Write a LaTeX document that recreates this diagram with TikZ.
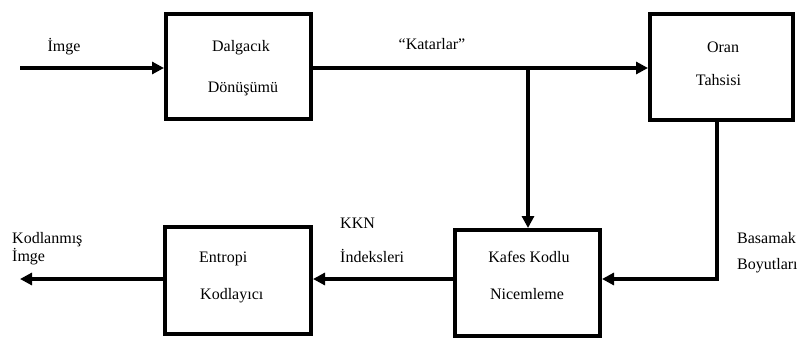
\documentclass[tikz,border=0pt]{standalone}
\usepackage{fontspec}
\setmainfont{Liberation Serif}
\usetikzlibrary{arrows.meta}
\begin{document}
\begin{tikzpicture}[x=1pt,y=-1pt,
  blk/.style={draw, line width=4pt, inner sep=0pt, minimum width=#1},
  lbl/.style={inner sep=0pt, text height=10.6pt, text depth=0pt, font=\fontsize{16}{19}\selectfont},
  conn/.style={line width=4pt},
  arr/.style={conn, -{Triangle[length=12pt,width=12pt]}}]
\useasboundingbox (0,0) rectangle (797,348);
% boxes
\node[blk=145pt, minimum height=105pt] (dalga) at (238.5,66.5) {};
\node[blk=143pt, minimum height=106pt] (oran) at (721.5,67) {};
\node[blk=145pt, minimum height=106pt] (kafes) at (527.5,283) {};
\node[blk=146pt, minimum height=107pt] (entropi) at (238,280.5) {};
% box texts
\node[lbl] (t1) at (241,46) {Dalgacık};
\node[lbl] (t2) at (243,87) {Dönüşümü};
\node[lbl] (t3) at (723,47) {Oran};
\node[lbl] (t4) at (718.5,80) {Tahsisi};
\node[lbl] (t5) at (529,257) {Kafes Kodlu};
\node[lbl] (t6) at (527,294) {Nicemleme};
\node[lbl, anchor=west] (t7) at (199,257) {Entropi};
\node[lbl, anchor=west] (t8) at (200,294) {Kodlayıcı};
% free labels
\node[lbl] (l1) at (64,46) {İmge};
\node[lbl] (l2) at (432,44) {“Katarlar”};
\node[lbl, anchor=west] (l3) at (340,223) {KKN};
\node[lbl, anchor=west] (l4) at (340,257) {İndeksleri};
\node[lbl, anchor=west] (l5) at (12,238) {Kodlanmış};
\node[lbl, anchor=west] (l6) at (12,256) {İmge};
\node[lbl, anchor=west] (l7) at (737,238) {Basamak};
\node[lbl, anchor=west] (l8) at (737,264) {Boyutları};
% coordinates
\coordinate (in) at (20,68);
\coordinate (br) at (528,68);
\coordinate (cr) at (717,279);
\coordinate (out) at (20,279);
% connectors
\draw[arr] (in) -- (in -| dalga.west);
\draw[arr] (dalga.east |- in) -- (oran.west |- in);
\draw[arr] (br) -- (br |- kafes.north);
\draw[arr] (cr |- oran.south) -- (cr) -- (cr -| kafes.east);
\draw[arr] (kafes.west |- out) -- (entropi.east |- out);
\draw[arr] (entropi.west |- out) -- (out);
\end{tikzpicture}
\end{document}
